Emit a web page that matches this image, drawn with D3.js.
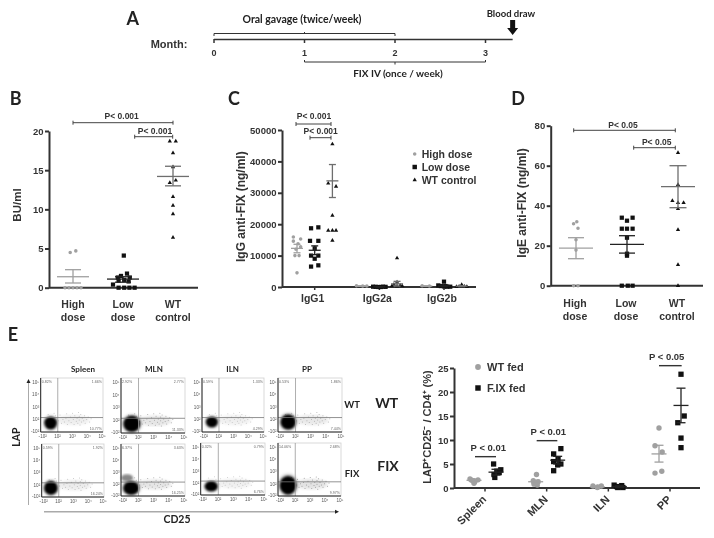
<!DOCTYPE html>
<html><head><meta charset="utf-8">
<script src="https://cdn.jsdelivr.net/npm/d3@7/dist/d3.min.js"></script>
<style>
html,body{margin:0;padding:0;background:#fff;overflow:hidden}
svg{display:block;filter:blur(0.4px)}
text{font-family:"Liberation Sans",Arial,sans-serif;font-weight:bold;fill:#333}
.cal{font-family:Lato,"Open Sans",sans-serif;fill:#222}
</style></head><body>
<svg id="c" width="714" height="538"></svg>
<script>
// ---------- DATA ----------
const doseCats = ["High dose","Low dose","WT control"];
const months = [0,1,2,3];
// Panel B (BU/ml): values and beeswarm slots
const bHigh = [0,0,0,0,0,4.5,4.7];
const bHighSlot = [-2,-1,0,1,2,-0.7,0.7];
const bLow = [0,0,0,0,0.4,0.9,1.0,0.8,1.3,1.3,1.5,1.8,4.1];
const bLowSlot = [-1.1,0.3,1.6,2.9,-2.5,-1.1,0.3,1.4,-1.3,1.7,-0.5,1,0.2];
const bWT = [18.7,18.7,17.2,15.4,13.4,13.7,11.6,10.5,9.4,6.4];
const bWTSlot = [-0.8,0.7,0,0,-0.8,0.7,0,0,0,0];
const bStats = [[1.4,0.6,2.3],[1.1,0.7,1.4],[14.2,13,15.5]];
// Panel C (IgG anti-FIX)
const igCats = ["IgG1","IgG2a","IgG2b"];
const cHigh = [[15900,15300,14600,13800,12800,12000,10000,10000,4500],[400,300,300],[400,300]];
const cHighSlot = [[-0.7,0.7,-0.7,0.2,0.7,-0.2,-0.4,0.4,0],[-1,0.2,1],[-0.8,0.6]];
const cLow = [[19000,18700,14700,14700,12300,10000,10000,9000,6900,6500],[100,50,0,0,100,50],[1700,500,300,200,100,100,300]];
const cLowSlot = [[0.7,-0.7,-0.9,0.7,0,-0.7,0.7,0,0.7,-0.7],[-1.2,-0.7,-0.2,0.3,0.7,1.2],[0,-1.1,-0.6,0,0.6,1.2,0.3]];
const cWT = [[45500,33000,32000,22800,18000,18000,18000,14800],[9200,1500,800,500,300,300,200],[700,100,200,200,100,150]];
const cWTSlot = [[0,-0.8,0.7,0,-0.8,0.7,0,0],[0,0,-0.6,0.6,-1,1,0],[0,-1,-0.5,0.5,1,0.1]];
const cStats = {high:[[12300,10900,13600],[300,250,350],[300,250,350]],
                low:[[11700,10300,13100],[50,0,100],[350,100,600]],
                wt:[[33800,28500,39000],[1000,300,1800],[250,100,450]]};
const igLegend = ["High dose","Low dose","WT control"];
// Panel D (IgE anti-FIX)
const dHigh = [0,0,32,31,28.7,23,17.8];
const dHighSlot = [-0.6,0.5,0.2,-0.6,0.5,0,0];
const dLow = [0,0,0,15,16,24,28.5,28.5,28.5,32.5,34,34];
const dLowSlot = [-1.3,0.2,1.4,0,0,0,-1.3,0,1.4,0,-1.3,1.4];
const dWT = [66.5,50.5,42.5,41.5,41.5,38.5,28,10.5,0];
const dWTSlot = [0,0,-1.4,0,1.4,0,0,0,0];
const dStats = [[18.8,13.5,24],[20.7,16.3,25],[49.5,39,60]];
// Panel E right (LAP+CD25-/CD4+)
const tissues = ["Spleen","MLN","ILN","PP"];
const eWT = [[1.9,1.7,1.6,1.5,1.3,1.0],[2.8,1.5,1.3,1.0,0.8,0.6],[0.4,0.4,0.2,0.1],[12.5,8.8,7.5,3.5,3.1]];
const eWTSlot = [[-1,1,-0.6,0,0.2,0],[0.2,-0.6,0.6,0,-0.4,0.4],[-1.1,1,0.1,0],[0,-1,0.8,0.7,-1]];
const eFIX = [[5.0,3.8,3.5,3.2,2.8,2.2],[8.2,7.1,6.0,5.5,5.0,4.8,3.6],[0.6,0.5,0.3,0.2,0.1,0.1],[23.7,15,13.6,10.4,8.4]];
const eFIXSlot = [[-0.6,1.2,0.2,0.8,-0.5,-0.3],[0.8,-1,0.1,-1,0.8,0,-1],[-1.3,0.6,-0.7,0,-0.4,0.9],[0,0.8,-0.8,0,0]];
const eWTStats = [[1.6,1.4,1.8],[1.3,1.0,1.6],[0.25,0.1,0.4],[7.1,5.4,8.9]];
const eFIXStats = [[3.3,2.7,3.9],[5.8,5.0,6.6],[0.3,0.15,0.45],[17.2,13.6,20.8]];
const eLegend = ["WT fed","F.IX fed"];
// Panel E left (flow plots): cell-cluster summaries in axis decades
const flowTissues = ["Spleen","MLN","ILN","PP"];
const flowRows = ["WT","FIX"];
const flowBlobs = [[[0.67,0.72,0.42,0.5],[0.71,0.72,0.55,0.62],[0.67,0.8,0.4,0.42],[0.67,0.8,0.5,0.6]],
                   [[0.62,0.74,0.45,0.55],[0.67,0.66,0.52,0.55],[0.69,0.72,0.42,0.42],[0.67,0.88,0.55,0.75]]];
const flowPct = [[["0.82%","1.66%","10.77%"],["2.92%","2.77%","11.33%"],["0.59%","1.33%","4.29%"],["0.53%","1.86%","7.44%"]],
                 [["0.59%","1.92%","16.24%"],["6.37%","3.63%","16.25%"],["0.32%","0.79%","6.76%"],["14.06%","2.68%","9.97%"]]];
const flowDensity = [[0.5,0.75,0.45,0.65],[0.55,0.75,0.45,0.85]];
const flowEvents = [[1.2,0.9],[1.4,0.7],[1.5,1.0],[1.6,0.8],[1.7,1.1],[1.8,0.6],[1.9,0.9],[2.0,1.2],[2.05,0.75],[2.2,1.0],[2.25,0.6],[2.3,1.3],[2.4,0.85],[2.45,1.1],[2.5,0.7],[2.6,1.25],[2.6,0.95],[2.65,0.55],[2.7,1.4],[2.75,0.8],[2.8,1.1],[2.9,0.9],[2.95,1.3],[3.0,0.7],[3.1,1.0],[3.2,1.2],[3.3,0.8],[1.3,1.35],[1.0,1.3],[1.75,1.45],[2.15,1.5],[2.55,1.55],[0.5,1.4],[0.9,1.5],[3.4,1.05]];
const flowXTicks = ["-10²","10²","10³","10⁴","10⁵"];
const flowYTicks = ["-10²","10²","10³","10⁴","10⁵"];

// ---------- LAYOUT ----------
const svg = d3.select("#c");
const defs = svg.append("defs");
defs.append("filter").attr("id","soft").append("feGaussianBlur").attr("stdDeviation",0.8);
defs.append("filter").attr("id","soft2").append("feGaussianBlur").attr("stdDeviation",1.6);
const dark = "#333", gray = "#a0a0a0", midgray = "#6e6e6e";
const sym = (t,s)=>d3.symbol().type(t).size(s)();
const MARK = {c:[d3.symbolCircle,10,gray], s:[d3.symbolSquare,20,"#111"], t:[d3.symbolTriangle,8,"#111"]};

function label(t,x,y,size,opt={}){
  const e = svg.append("text").attr("x",x).attr("y",y).attr("font-size",size)
    .attr("text-anchor",opt.anchor||"middle").text(t);
  if(opt.cal) e.attr("class","cal");
  if(opt.rot!==undefined) e.attr("transform",`rotate(${opt.rot} ${x} ${y})`);
  if(opt.weight) e.style("font-weight",opt.weight);
  if(opt.fill) e.style("fill",opt.fill);
  return e;
}
function styleAxis(g,w){
  g.selectAll("path,line").attr("stroke",dark).attr("stroke-width",w);
  g.selectAll("text").attr("fill",null);
}
function yAxis(scale,x,ticks,size,w=2){
  const g = svg.append("g").attr("transform",`translate(${x},0)`)
    .call(d3.axisLeft(scale).tickValues(ticks).tickSize(4).tickSizeOuter(0).tickPadding(1.5).tickFormat(d3.format("d")));
  styleAxis(g,w); g.selectAll("text").attr("font-size",size).attr("font-family",null);
  return g;
}
function xAxisLine(x0,x1,y,w=2){
  svg.append("line").attr("x1",x0).attr("x2",x1).attr("y1",y).attr("y2",y).attr("stroke",dark).attr("stroke-width",w);
}
function points(vals,slots,cx,y,kind,slotW,scaleSize=1){
  const [t,s,c] = MARK[kind];
  svg.append("g").selectAll("path").data(vals).join("path")
    .attr("d",sym(t,s*scaleSize)).attr("fill",c)
    .attr("transform",(d,i)=>`translate(${cx+slots[i]*slotW},${y(d)})`);
}
function stat(st,cx,y,halfMean,halfCap,color,w=1.3){
  const [m,lo,hi]=st, g=svg.append("g").attr("stroke",color).attr("stroke-width",w);
  g.append("line").attr("x1",cx-halfMean).attr("x2",cx+halfMean).attr("y1",y(m)).attr("y2",y(m));
  g.append("line").attr("x1",cx).attr("x2",cx).attr("y1",y(lo)).attr("y2",y(hi));
  [lo,hi].forEach(v=>g.append("line").attr("x1",cx-halfCap).attr("x2",cx+halfCap).attr("y1",y(v)).attr("y2",y(v)));
}
function bracket(x0,x1,yy,txt,tx,ty,size=8.5){
  const g=svg.append("g").attr("stroke","#444").attr("stroke-width",1);
  g.append("line").attr("x1",x0).attr("x2",x1).attr("y1",yy).attr("y2",yy);
  [x0,x1].forEach(x=>g.append("line").attr("x1",x).attr("x2",x).attr("y1",yy-2).attr("y2",yy+2));
  label(txt,tx,ty,size);
}

// ---------- PANEL A ----------
label("A",132.7,25,18,{cal:true});
const mx = d3.scaleLinear().domain([0,3]).range([214,485.5]);
label("Month:",150.7,47.5,11,{anchor:"start"});
const ag = svg.append("g").attr("stroke","#333");
ag.append("line").attr("x1",mx(0)).attr("x2",mx(3.3)).attr("y1",39.5).attr("y2",39.5).attr("stroke-width",1.5);
months.forEach(m=>{
  ag.append("line").attr("x1",mx(m)).attr("x2",mx(m)).attr("y1",39).attr("y2",43).attr("stroke-width",1.5);
  label(m,mx(m),56,9);
});
ag.append("path").attr("fill","none").attr("stroke-width",1)
  .attr("d",`M${mx(0)},36 V33.5 H${mx(2)} V36 M${mx(1)},33.5 V32`);
ag.append("path").attr("fill","none").attr("stroke-width",1)
  .attr("d",`M${mx(1)},60 V62 H${mx(3)} V60 M${mx(2)},62 V64.5`);
label("Oral gavage (twice/week)",302,23,10.5,{cal:true});
label("FIX IV (once / week)",398,77,10,{cal:true});
label("Blood draw",486.7,17,9.5,{anchor:"start",cal:true});
svg.append("path").attr("fill","#111")
  .attr("d",`M${mx(3.3)-2.5},20 h5 v8 h3 l-5.5,7 l-5.5,-7 h3 z`);

// ---------- PANEL B ----------
label("B",15.7,105,18,{cal:true});
{
  const y=d3.scaleLinear().domain([0,20]).range([287.7,131]);
  const x=d3.scalePoint().domain(doseCats).range([73,173]);
  xAxisLine(49,198,y(0));
  yAxis(y,49,[0,5,10,15,20],9.5);
  label("BU/ml",20.5,205,11.5,{rot:-90});
  doseCats.forEach(c=>{const p=c.split(" ");label(p[0],x(c),308,10.5);label(p[1],x(c),321,10.5);});
  const sw=4;
  points(bHigh,bHighSlot,x(doseCats[0]),y,"c",sw);
  points(bLow,bLowSlot,x(doseCats[1]),y,"s",sw,0.9);
  points(bWT,bWTSlot,x(doseCats[2]),y,"t",sw);
  stat(bStats[0],x(doseCats[0]),y,16,8,gray);
  stat(bStats[1],x(doseCats[1]),y,16,8,"#222");
  stat(bStats[2],x(doseCats[2]),y,16,8,midgray);
  bracket(x(doseCats[0]),x(doseCats[2]),122.7,"P< 0.001",121.7,119);
  bracket(x(doseCats[1])+11.7,172.7,136.7,"P< 0.001",155,133.7);
}
// ---------- PANEL C ----------
label("C",234,105,18,{cal:true});
{
  const y=d3.scaleLinear().domain([0,50000]).range([287,130]);
  const x=d3.scalePoint().domain(igCats).range([314.7,444]);
  xAxisLine(282,476,y(0));
  yAxis(y,282,[0,10000,20000,30000,40000,50000],9.5);
  igCats.forEach(c=>{
    svg.append("line").attr("x1",x(c)).attr("x2",x(c)).attr("y1",y(0)).attr("y2",y(0)+3).attr("stroke",dark).attr("stroke-width",1.5);
    label(c,x(c)-2,302,10.5);
  });
  label("IgG anti-FIX (ng/ml)",245,206.7,12,{rot:-90});
  const d=17.7, sw=4;
  igCats.forEach((c,i)=>{
    points(cHigh[i],cHighSlot[i],x(c)-d,y,"c",sw*1.3);
    points(cLow[i],cLowSlot[i],x(c),y,"s",sw*1.3,0.9);
    points(cWT[i],cWTSlot[i],x(c)+d,y,"t",sw*1.3);
    stat(cStats.high[i],x(c)-d,y,6,3.5,gray);
    stat(cStats.low[i],x(c),y,6,3.5,"#222");
    stat(cStats.wt[i],x(c)+d,y,6,3.5,midgray);
  });
  bracket(296,331,124,"P< 0.001",314,119);
  bracket(310,331,137.7,"P< 0.001",320.7,134);
  const ly=d3.scalePoint().domain(igLegend).range([154,180]);
  igLegend.forEach((t,i)=>{
    const [ty,s,col]=MARK[["c","s","t"][i]];
    svg.append("path").attr("d",sym(ty,s)).attr("fill",col).attr("transform",`translate(414.7,${ly(t)})`);
    label(t,421.7,ly(t)+3.5,10.5,{anchor:"start"});
  });
}
// ---------- PANEL D ----------
label("D",518,105,18,{cal:true});
{
  const y=d3.scaleLinear().domain([0,80]).range([285.7,125.7]);
  const x=d3.scalePoint().domain(doseCats).range([576,678]);
  xAxisLine(550.7,703,y(0));
  yAxis(y,550.7,[0,20,40,60,80],9.5);
  label("IgE anti-FIX (ng/ml)",526,203,12,{rot:-90});
  doseCats.forEach(c=>{const p=c.split(" ");label(p[0],x(c)-1,306.7,10.5);label(p[1],x(c)-1,320,10.5);});
  const sw=4;
  points(dHigh,dHighSlot,x(doseCats[0]),y,"c",sw);
  points(dLow,dLowSlot,x(doseCats[1]),y,"s",sw,0.9);
  points(dWT,dWTSlot,x(doseCats[2]),y,"t",sw);
  stat(dStats[0],x(doseCats[0]),y,17,8,gray);
  stat(dStats[1],x(doseCats[1]),y,17,8,"#222");
  stat(dStats[2],x(doseCats[2]),y,17,8.5,midgray);
  bracket(573.7,675.3,130.3,"P< 0.05",623,127.7);
  bracket(633.7,675.3,147.7,"P< 0.05",656.7,145);
}
// ---------- PANEL E right ----------
label("E",13,341,18,{cal:true});
{
  const y=d3.scaleLinear().domain([0,25]).range([488,368]);
  const x=d3.scalePoint().domain(tissues).range([485,670]);
  xAxisLine(454,700,y(0));
  yAxis(y,454,[0,5,10,15,20,25],9.5);
  label("LAP⁺CD25⁻ / CD4⁺ (%)",431,427,11,{rot:-90});
  const d=11, sw=4;
  tissues.forEach((c,i)=>{
    svg.append("line").attr("x1",x(c)).attr("x2",x(c)).attr("y1",y(0)).attr("y2",y(0)+3.5).attr("stroke",dark).attr("stroke-width",1.5);
    label(c,x(c)+2,500,11,{anchor:"end",rot:-45});
    points(eWT[i],eWTSlot[i],x(c)-d,y,"c",sw,2.3);
    points(eFIX[i],eFIXSlot[i],x(c)+d,y,"s",sw,1.4);
    stat(eWTStats[i],x(c)-d,y,7.5,4.5,gray);
    stat(eFIXStats[i],x(c)+d,y,7.5,4.5,"#222");
  });
  [[165,228,350,"P  < 0.01",205,333],[350,412,302,"P  < 0.01",385,286],[717,785,77,"P  < 0.05",740,60]].forEach(a=>{
    svg.append("line").attr("x1",420+a[0]/3).attr("x2",420+a[1]/3).attr("y1",340+a[2]/3).attr("y2",340+a[2]/3).attr("stroke","#333").attr("stroke-width",1.4);
    label(a[3],420+a[4]/3,340+a[5]/3,9.5);
  });
  const ly=d3.scalePoint().domain(eLegend).range([367,388]);
  svg.append("path").attr("d",sym(d3.symbolCircle,26)).attr("fill",gray).attr("transform",`translate(478,${ly(eLegend[0])})`);
  svg.append("path").attr("d",sym(d3.symbolSquare,30)).attr("fill","#111").attr("transform",`translate(478,${ly(eLegend[1])})`);
  eLegend.forEach(t=>label(t,487,ly(t)+3.5,11,{anchor:"start"}));
}
// ---------- PANEL E flow plots ----------
{
  const boxes=[[[40.7,103,378,432],[121,185,378,433],[202,264,378,432],[278,342,378,432]],
               [[41.7,104,444,497],[121,185,444,496],[200.7,265,443,495],[278,341,443,496]]];
  const titleX=[83,154,232.7,307];
  flowRows.forEach((r,ri)=>flowTissues.forEach((t,ci)=>{
    const [x0,x1,y0,y1]=boxes[ri][ci];
    const x=d3.scaleLinear().domain([0,4.2]).range([x0,x1]);
    const y=d3.scaleLinear().domain([0,4.3]).range([y1,y0]);
    const g=svg.append("g");
    g.append("rect").attr("x",x0).attr("y",y0).attr("width",x1-x0).attr("height",y1-y0).attr("fill","#fff").attr("stroke","#cfcfcf").attr("stroke-width",0.8);
    const [cx,cy,rx,ry]=flowBlobs[ri][ci];
    g.append("ellipse").attr("cx",x(2.2)).attr("cy",y(0.95)).attr("rx",x(1.1)-x(0)).attr("ry",y(0)-y(0.4))
      .attr("fill","#bbb").attr("opacity",0.5*flowDensity[ri][ci]).attr("filter","url(#soft2)");
    g.selectAll("circle.e").data(flowEvents).join("circle").attr("class","e")
      .attr("cx",d=>x(d[0])).attr("cy",d=>y(d[1])).attr("r",0.5).attr("fill","#888").attr("opacity",flowDensity[ri][ci]);
    if(ri===1&&ci===1){
      g.append("ellipse").attr("cx",x(0.4)).attr("cy",y(1.5)).attr("rx",x(0.4)-x(0)).attr("ry",y(0)-y(0.3)).attr("fill","#888").attr("filter","url(#soft)");
    }
    g.append("ellipse").attr("cx",x(cx)).attr("cy",y(cy)).attr("rx",(x(rx)-x(0))*1.2).attr("ry",(y(0)-y(ry))*1.2).attr("fill","#777").attr("opacity",0.45).attr("filter","url(#soft2)");
    g.append("ellipse").attr("cx",x(cx)).attr("cy",y(cy)).attr("rx",x(rx)-x(0)).attr("ry",y(0)-y(ry)).attr("fill","#000").attr("filter","url(#soft)");
    g.append("line").attr("x1",x(1.15)).attr("x2",x(1.15)).attr("y1",y0).attr("y2",y1).attr("stroke","#999").attr("stroke-width",0.8);
    g.append("line").attr("x1",x0).attr("x2",x1).attr("y1",y(1.15)).attr("y2",y(1.15)).attr("stroke","#777").attr("stroke-width",0.8);
    g.append("path").attr("fill","none").attr("stroke","#222").attr("stroke-width",1).attr("d",`M${x0},${y0} V${y1} H${x1}`);
    const ax=svg.append("g").attr("transform",`translate(0,${y1})`)
      .call(d3.axisBottom(x).tickValues([0.1,1.1,2.1,3.1,4.1]).tickSize(0).tickPadding(2.5).tickFormat((d,i)=>flowXTicks[i]));
    ax.select(".domain").remove();
    ax.selectAll("text").attr("font-size",4.6).attr("fill",null).style("font-weight","normal").style("fill","#555");
    const ay=svg.append("g").attr("transform",`translate(${x0},0)`)
      .call(d3.axisLeft(y).tickValues([0.1,1,2,3,4]).tickSize(0).tickPadding(1.5).tickFormat((d,i)=>flowYTicks[i]));
    ay.select(".domain").remove();
    ay.selectAll("text").attr("font-size",4.6).attr("fill",null).style("font-weight","normal").style("fill","#555");
    const pct=flowPct[ri][ci];
    label(pct[0],x0+1,y0+4.5,3.6,{anchor:"start",weight:"normal",fill:"#666"});
    label(pct[1],x1-1,y0+4.5,3.6,{anchor:"end",weight:"normal",fill:"#666"});
    label(pct[2],x1-1,y1-2,3.6,{anchor:"end",weight:"normal",fill:"#666"});
    if(ri===0) label(t,titleX[ci],372,8,{cal:true});
  }));
  label("LAP",20,437,10.5,{rot:-90,cal:true});
  label("CD25",177,523,10.5,{cal:true});
  svg.append("line").attr("x1",28.5).attr("x2",28.5).attr("y1",505).attr("y2",382).attr("stroke","#aaa").attr("stroke-width",1);
  svg.append("path").attr("d","M28.5,379 l-2,4 h4 z").attr("fill","#222");
  svg.append("line").attr("x1",44).attr("x2",336).attr("y1",511.7).attr("y2",511.7).attr("stroke","#aaa").attr("stroke-width",1.6);
  svg.append("path").attr("d","M339,511.7 l-4,-2 v4 z").attr("fill","#222");
  label("WT",352,408,9.5,{cal:true});
  label("FIX",352,477,9.5,{cal:true});
  label("WT",386.7,408,14,{cal:true});
  label("FIX",388,471,14,{cal:true});
}
</script>
</body></html>
